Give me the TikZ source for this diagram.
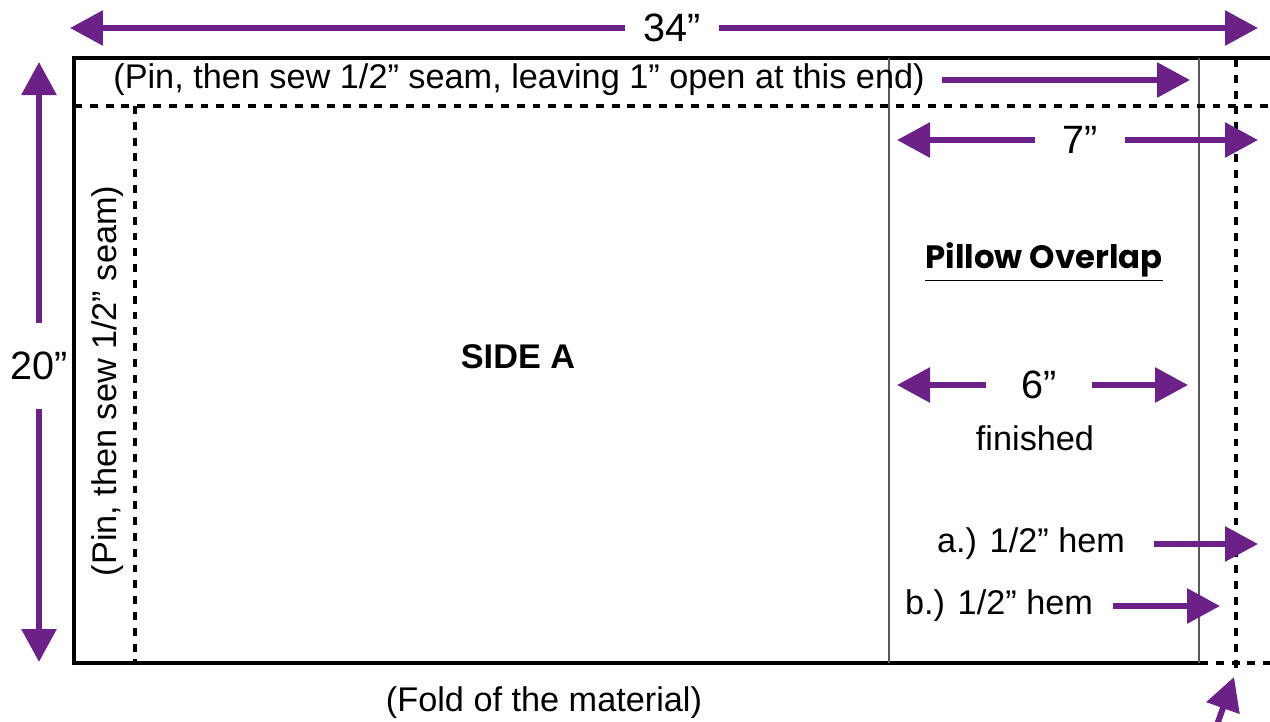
\documentclass[tikz,border=0pt]{standalone}
\usepackage{fontspec}
\setmainfont{Liberation Sans}
\newfontfamily\overlapfont{Poppins}
\usetikzlibrary{arrows.meta}
\definecolor{hempurple}{RGB}{107,33,135}
\tikzset{
	dimarrow/.style={line width=3.4pt, draw=hempurple, -{Triangle[length=0.66cm, width=0.68cm]}},
	foldline/.style={line width=2.3pt, dash pattern=on 4.5pt off 4.5pt},
	edgeline/.style={line width=2.6pt},
	thinline/.style={line width=1.1pt, draw=black!65},
	notetext/.style={font=\fontsize{19.5}{23}\selectfont, inner sep=0pt},
	bignum/.style={font=\fontsize{22.5}{26}\selectfont, inner sep=0pt}
}
\begin{document}
\begin{tikzpicture}[x=0.02cm, y=-0.02cm]
		\useasboundingbox (0,0) rectangle (1270,721);
		\clip (0,0) rectangle (1270,721);

		% Draw outline of the fabric
		\draw[edgeline] (1270,58) -- (74,58) -- (74,663) -- (1200,663);
		\draw[thinline] (889,58) -- (889,663);
		\draw[thinline] (1199,58) -- (1199,663);

		% Seam lines
		\draw[foldline] (74,106) -- (1270,106);
		\draw[foldline] (135,106) -- (135,663);
		\draw[foldline] (1236,59) -- (1236,672);
		\draw[foldline] (1200,663) -- (1270,663);

		% Outer sizes
		\node[bignum, minimum width=1.86cm] (t34) at (672,28) {34”};
		\coordinate (l34) at (70,28);
		\coordinate (r34) at (1258,28);
		\draw[dimarrow] (t34) -- (l34);
		\draw[dimarrow] (t34) -- (r34);

		\node[bignum, minimum height=1.72cm] (t20) at (39,366) {20”};
		\coordinate (u20) at (39,62);
		\coordinate (d20) at (39,662);
		\draw[dimarrow] (t20) -- (u20);
		\draw[dimarrow] (t20) -- (d20);

		% Seam notes
		\node[notetext] (tpin) at (519,80) {(Pin, then sew 1/2” seam, leaving 1” open at this end)};
		\coordinate (pinend) at (1190,80);
		\draw[dimarrow] ([xshift=0.34cm]tpin.east) -- (pinend);

		\node[notetext, rotate=90] (tside) at (108,381) {(Pin, then sew 1/2” seam)};
		\node[notetext, font=\fontsize{19.5}{23}\selectfont\bfseries] (sidea) at (518,357) {SIDE A};
		\node[notetext] (tfold) at (544,703) {(Fold of the material)};
		\coordinate (foldtail) at (1208,750);
		\coordinate (foldtip) at (1234,677);
		\draw[dimarrow] (foldtail) -- (foldtip);

		% Overlap part
		\node[inner sep=0pt, font=\overlapfont\bfseries\fontsize{18.4}{22}\selectfont] (tover) at (1044,262) {\underline{Pillow Overlap}};

		\node[bignum, minimum width=1.8cm] (t7) at (1080,140) {7”};
		\coordinate (l7) at (897,140);
		\coordinate (r7) at (1258,140);
		\draw[dimarrow] (t7) -- (l7);
		\draw[dimarrow] (t7) -- (r7);

		\node[bignum, minimum width=2.1cm] (t6) at (1039,385) {6”};
		\coordinate (l6) at (897,385);
		\coordinate (r6) at (1188,385);
		\draw[dimarrow] (t6) -- (l6);
		\draw[dimarrow] (t6) -- (r6);
		\node[notetext] (tfin) at (1035,438) {finished};

		\node[notetext] (hema) at (1031,544) {a.) 1/2” hem};
		\coordinate (hematip) at (1258,544);
		\draw[dimarrow] ([xshift=0.58cm]hema.east) -- (hematip);

		\node[notetext] (hemb) at (999,606) {b.) 1/2” hem};
		\coordinate (hembtip) at (1220,606);
		\draw[dimarrow] ([xshift=0.4cm]hemb.east) -- (hembtip);
	\end{tikzpicture}
\end{document}
